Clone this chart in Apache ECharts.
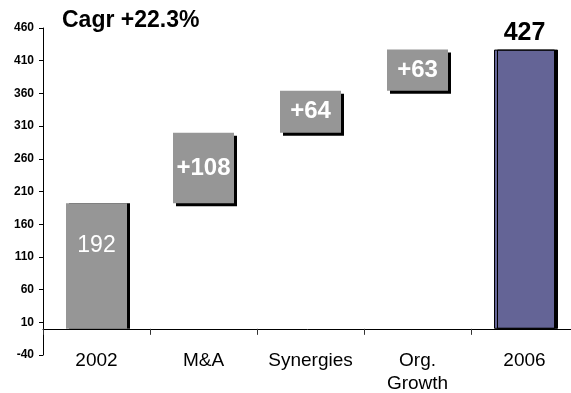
<!DOCTYPE html>
<html>
<head>
<meta charset="utf-8">
<script src="https://cdn.jsdelivr.net/npm/echarts@6/dist/echarts.min.js"></script>
<style>
  html, body { margin: 0; padding: 0; background: #fff; }
  #chart { width: 571px; height: 393px; }
</style>
</head>
<body>
<div id="chart"></div>
<script>
// Waterfall: starting value, three increments, ending value
const categories = ['2002', 'M&A', 'Synergies', 'Org.\nGrowth', '2006'];
const barValues = [192, 108, 64, 63, 427];
const barLabels = ['192', '+108', '+64', '+63', '427'];
const barKinds = ['total', 'step', 'step', 'step', 'total'];
const titleText = 'Cagr +22.3%';

const FONT = '"Liberation Sans", Arial, sans-serif';
const GREY = '#969696';
const PURPLE = '#646496';

// invisible base for the floating steps: running total before each step
const baseValues = [];
let running = 0;
barValues.forEach((v, i) => {
  if (barKinds[i] === 'total') {
    baseValues.push(0);
    running = v;
  } else {
    baseValues.push(running);
    running += v;
  }
});

const visibleData = barValues.map((v, i) => {
  const last = i === barValues.length - 1;
  const first = i === 0;
  const item = {
    value: v,
    itemStyle: {
      color: last ? PURPLE : GREY,
      borderColor: last ? '#000' : 'transparent',
      borderWidth: last ? 1 : 0,
      shadowColor: '#000',
      shadowBlur: 0,
      shadowOffsetX: 3,
      shadowOffsetY: barKinds[i] === 'total' ? 0 : 3
    },
    label: {
      show: true,
      formatter: barLabels[i],
      fontFamily: FONT
    }
  };
  if (first) {
    Object.assign(item.label, {
      position: 'insideTop', distance: 31, color: '#fff',
      fontSize: 23, fontWeight: 'normal'
    });
  } else if (last) {
    Object.assign(item.label, {
      position: 'top', distance: 4, color: '#000',
      fontSize: 25, fontWeight: 'bold'
    });
  } else {
    Object.assign(item.label, {
      position: 'inside', color: '#fff',
      fontSize: 24, fontWeight: 'bold'
    });
  }
  return item;
});

const chart = echarts.init(document.getElementById('chart'), null, { renderer: 'canvas' });
chart.setOption({
  animation: false,
  backgroundColor: '#fff',
  title: {
    text: titleText,
    left: 57,
    top: 4,
    textStyle: { fontFamily: FONT, fontSize: 23, fontWeight: 'bold', color: '#000' }
  },
  grid: {
    left: 43, right: -7, top: 28, bottom: 38,
    containLabel: false,
    outerBoundsMode: 'none'
  },
  xAxis: {
    type: 'category',
    data: categories,
    axisLine: { onZero: true, lineStyle: { color: '#000', width: 1 } },
    axisTick: { show: true, length: 6, lineStyle: { color: '#333' } },
    axisLabel: {
      interval: 0, margin: -6, color: '#000',
      fontFamily: FONT, fontSize: 19, lineHeight: 23
    },
    splitLine: { show: false }
  },
  yAxis: {
    type: 'value',
    min: -40,
    max: 460,
    interval: 50,
    axisLine: { show: true, lineStyle: { color: '#000', width: 1 } },
    axisTick: { show: true, length: 4, lineStyle: { color: '#000' } },
    axisLabel: {
      margin: 9, color: '#000', fontFamily: FONT, fontSize: 12, fontWeight: 'bold'
    },
    splitLine: { show: false }
  },
  series: [
    {
      type: 'bar',
      stack: 'wf',
      barWidth: 61,
      silent: true,
      itemStyle: { color: 'transparent' },
      data: baseValues
    },
    {
      type: 'bar',
      stack: 'wf',
      barWidth: 61,
      data: visibleData
    }
  ]
});
</script>
</body>
</html>
